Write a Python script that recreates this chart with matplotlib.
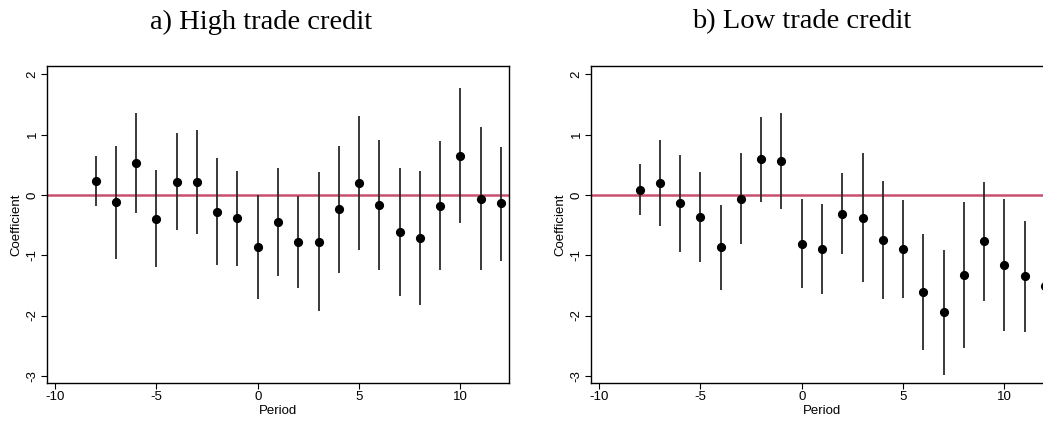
import matplotlib
matplotlib.use("Agg")
import matplotlib.pyplot as plt

plt.rcParams["axes.unicode_minus"] = False

# event-study coefficients with confidence bands
periods = list(range(-8, 13))

highCoef = [0.23, -0.12, 0.53, -0.40, 0.22, 0.21, -0.28, -0.39, -0.87, -0.45, -0.78,
            -0.78, -0.24, 0.20, -0.17, -0.61, -0.71, -0.18, 0.65, -0.06, -0.14]
highUpper = [0.65, 0.82, 1.36, 0.41, 1.02, 1.07, 0.61, 0.40, 0.00, 0.44, -0.01,
             0.38, 0.82, 1.31, 0.91, 0.45, 0.39, 0.89, 1.77, 1.13, 0.80]
highLower = [-0.19, -1.07, -0.30, -1.20, -0.58, -0.64, -1.17, -1.18, -1.73, -1.34, -1.55,
             -1.93, -1.29, -0.91, -1.24, -1.67, -1.82, -1.25, -0.46, -1.25, -1.09]

lowCoef = [0.09, 0.20, -0.14, -0.37, -0.87, -0.06, 0.59, 0.56, -0.81, -0.90, -0.31,
           -0.38, -0.75, -0.90, -1.61, -1.95, -1.33, -0.77, -1.16, -1.35, -1.51]
lowUpper = [0.52, 0.92, 0.66, 0.38, -0.17, 0.70, 1.29, 1.36, -0.07, -0.15, 0.37,
            0.69, 0.24, -0.08, -0.64, -0.91, -0.12, 0.22, -0.06, -0.43, -0.55]
lowLower = [-0.33, -0.52, -0.95, -1.11, -1.58, -0.82, -0.12, -0.24, -1.55, -1.65, -0.98,
            -1.45, -1.73, -1.71, -2.58, -2.99, -2.54, -1.76, -2.25, -2.28, -2.45]

titles = ["a) High trade credit", "b) Low trade credit"]

W, H = 1043, 423
fig = plt.figure(figsize=(W / 100, H / 100), dpi=100)

# axes boxes in pixels: left, top, width, height (right panel runs off the page)
boxes = [(47, 66, 462, 317), (591, 66, 462, 317)]
titleX = [261, 802]
series = [(highCoef, highUpper, highLower), (lowCoef, lowUpper, lowLower)]

for i in range(2):
    l, t, w, h = boxes[i]
    ax = fig.add_axes([l / W, (H - t - h) / H, w / W, h / H])
    coef, upper, lower = series[i]
    ax.axhline(0, color="#c8506e", linewidth=1.8, zorder=1)
    ax.vlines(periods, lower, upper, color="#2a2a2a", linewidth=1.3, zorder=2)
    ax.plot(periods, coef, "o", color="black", markersize=5.6, zorder=3)
    ax.set_xlim(-10.4, 12.4)
    ax.set_ylim(-3.12, 2.14)
    ax.set_xticks([-10, -5, 0, 5, 10])
    ax.set_yticks([-3, -2, -1, 0, 1, 2])
    ax.set_yticklabels(["-3", "-2", "-1", "0", "1", "2"], rotation=90, va="center")
    ax.tick_params(labelsize=9.5, length=4, width=0.8, pad=2)
    for lbl in ax.get_xticklabels() + ax.get_yticklabels():
        lbl.set_family("Liberation Sans")
    ax.set_xlabel("Period", fontsize=9.5, family="Liberation Sans", labelpad=1)
    ax.set_ylabel("Coefficient", fontsize=9.5, family="Liberation Sans", labelpad=3)
    for s in ax.spines.values():
        s.set_linewidth(1.0)
    fig.text(titleX[i] / W, 1 - 22 / H, titles[i], ha="center", va="center",
             fontsize=20.5, family="Liberation Serif")

fig.savefig("out.png", dpi=100)
